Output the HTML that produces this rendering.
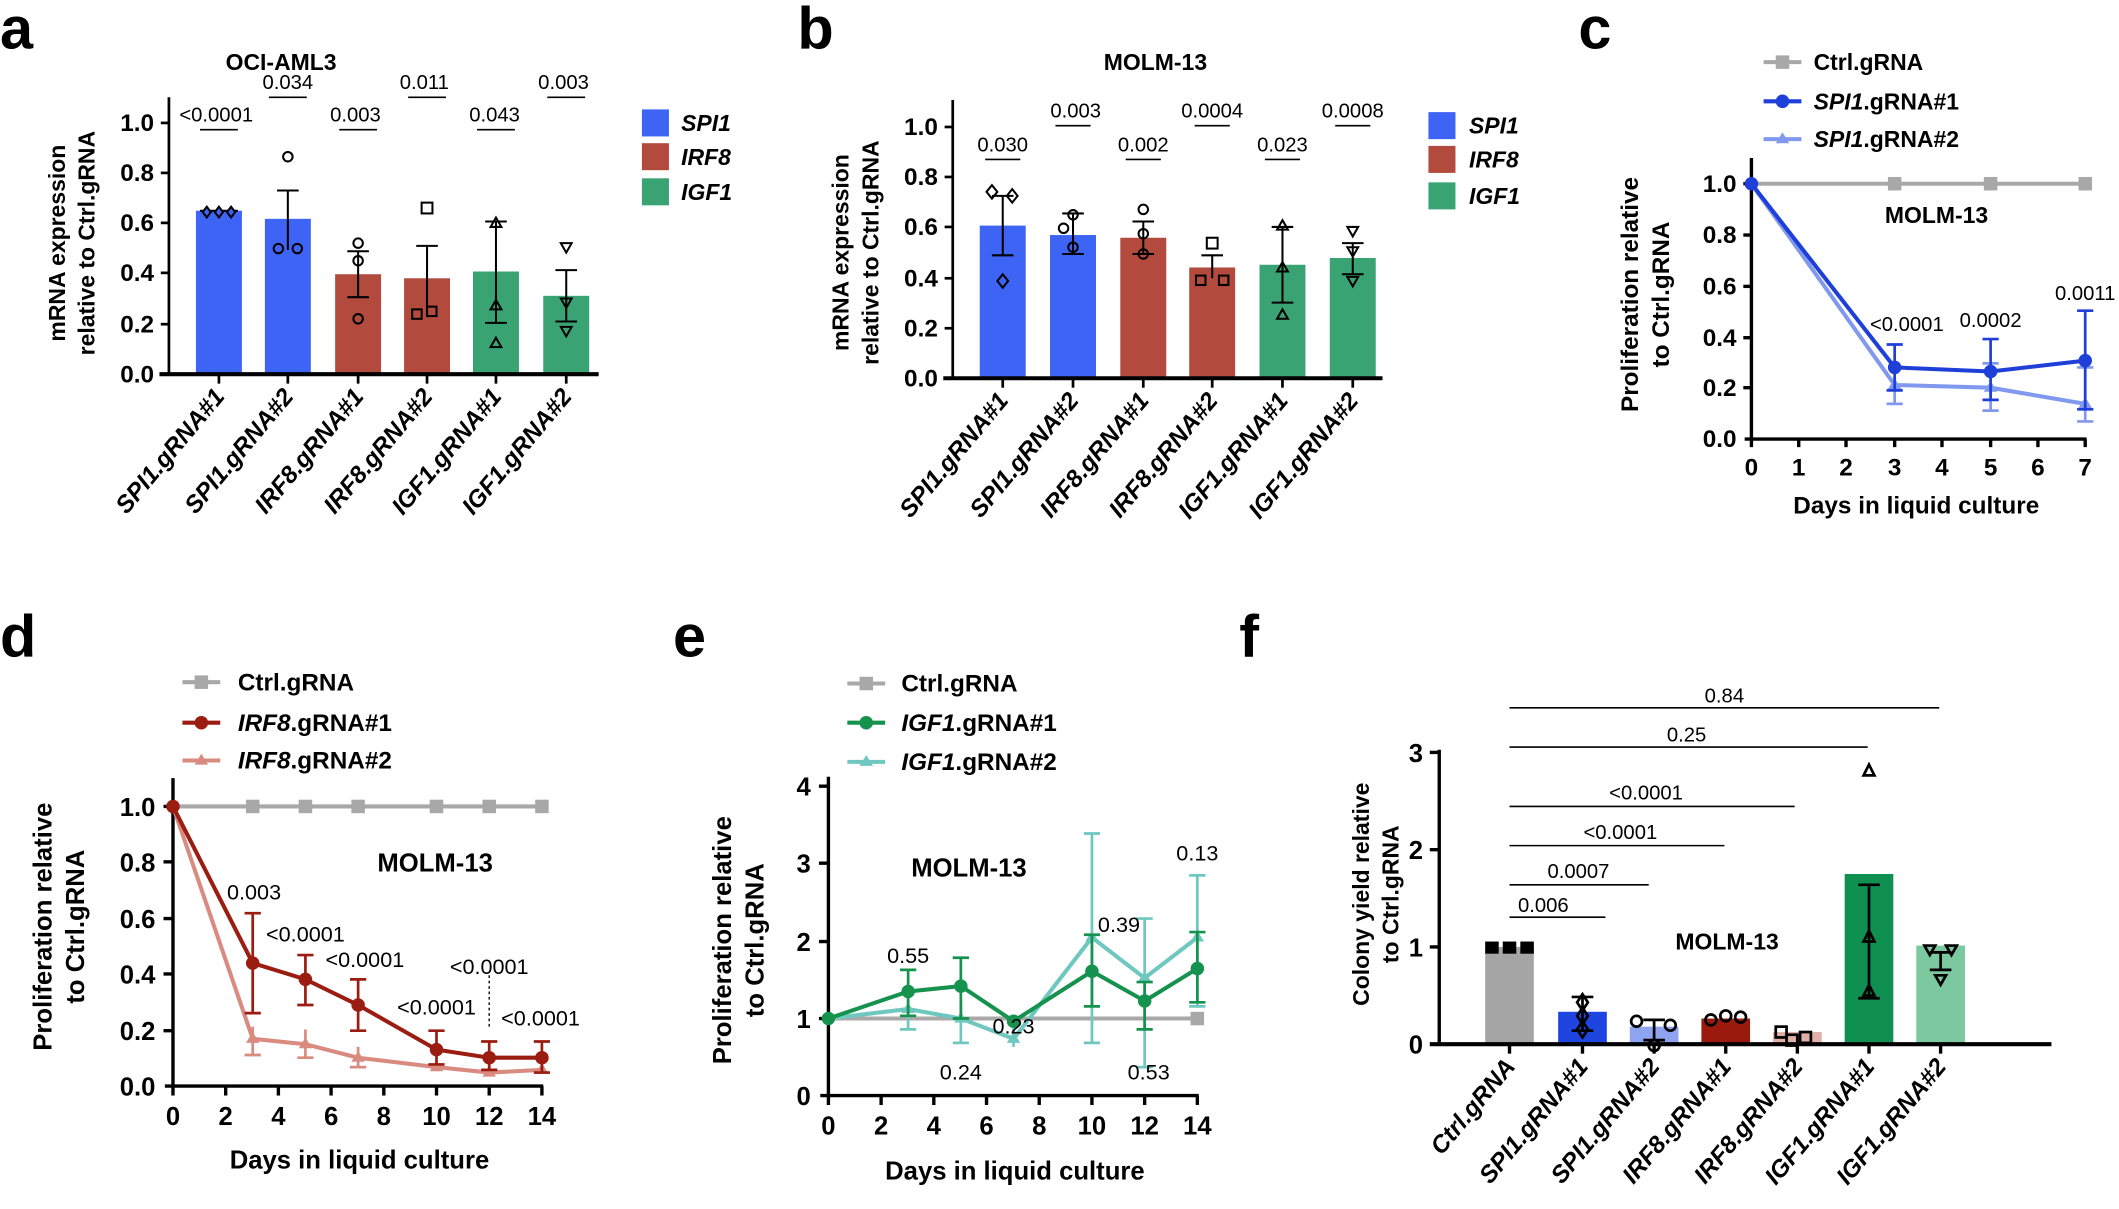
<!DOCTYPE html>
<html><head><meta charset="utf-8"><style>
html,body{margin:0;padding:0;background:#fff;}
svg{display:block;}
text{font-family:"Liberation Sans",sans-serif;}
.n{font-family:"Liberation Sans Narrow","Liberation Sans",sans-serif;}
</style></head><body>
<svg width="2119" height="1209" viewBox="0 0 1568 895" preserveAspectRatio="none" xmlns="http://www.w3.org/2000/svg">
<rect width="1568" height="895" fill="#fff"/>
<g font-weight="bold" font-size="44">
<text x="0" y="36">a</text><text x="590" y="36">b</text><text x="1168" y="36">c</text>
<text x="0" y="486">d</text><text x="498" y="486">e</text><text x="917" y="486">f</text>
</g>

<!-- ============ PANEL A ============ -->
<g>
<text x="208" y="52" text-anchor="middle" font-weight="bold" font-size="17" class="n">OCI-AML3</text>
<text transform="translate(48,180) rotate(-90)" text-anchor="middle" font-weight="bold" font-size="17">mRNA expression</text>
<text transform="translate(70,180) rotate(-90)" text-anchor="middle" font-weight="bold" font-size="17">relative to Ctrl.gRNA</text>
<g fill="#3d64f5"><rect x="145" y="156" width="34" height="121"/><rect x="196" y="162" width="34" height="115"/></g>
<g fill="#b24a3e"><rect x="248" y="203" width="34" height="74"/><rect x="299" y="206" width="34" height="71"/></g>
<g fill="#3aa373"><rect x="350" y="201" width="34" height="76"/><rect x="402" y="219" width="34" height="58"/></g>
<g stroke="#000" stroke-width="2" fill="none">
<line x1="125" y1="72" x2="125" y2="277"/><line x1="118" y1="277" x2="443" y2="277" stroke-width="3"/>
<line x1="119" y1="91" x2="125" y2="91"/><line x1="119" y1="128" x2="125" y2="128"/><line x1="119" y1="165" x2="125" y2="165"/><line x1="119" y1="202" x2="125" y2="202"/><line x1="119" y1="240" x2="125" y2="240"/>
<line x1="162" y1="277" x2="162" y2="284"/><line x1="213" y1="277" x2="213" y2="284"/><line x1="265" y1="277" x2="265" y2="284"/><line x1="316" y1="277" x2="316" y2="284"/><line x1="367" y1="277" x2="367" y2="284"/><line x1="419" y1="277" x2="419" y2="284"/>
</g>
<g stroke="#000" stroke-width="1.5" fill="none">
<line x1="148" y1="156" x2="176" y2="156"/>
<line x1="213" y1="141" x2="213" y2="162"/><line x1="205" y1="141" x2="221" y2="141"/><line x1="213" y1="162" x2="213" y2="185"/>
<line x1="265" y1="186" x2="265" y2="220"/><line x1="257" y1="186" x2="273" y2="186"/><line x1="257" y1="220" x2="273" y2="220"/>
<line x1="316" y1="182" x2="316" y2="232"/><line x1="308" y1="182" x2="324" y2="182"/>
<line x1="367" y1="164" x2="367" y2="239"/><line x1="359" y1="164" x2="375" y2="164"/><line x1="359" y1="239" x2="375" y2="239"/>
<line x1="419" y1="200" x2="419" y2="238"/><line x1="411" y1="200" x2="427" y2="200"/><line x1="411" y1="238" x2="427" y2="238"/>
<circle cx="213" cy="116" r="3.5"/><circle cx="206" cy="184" r="3.5"/><circle cx="220" cy="184" r="3.5"/>
<circle cx="265" cy="180" r="3.5"/><circle cx="265" cy="193" r="3.5"/><circle cx="265" cy="236" r="3.5"/>
<rect x="312" y="150" width="8" height="8"/><rect x="305" y="229" width="7" height="7"/><rect x="316" y="227" width="7" height="7"/>
<path d="M367 161 l4 7 h-8z M367 222 l4 7 h-8z M367 250 l4 7 h-8z"/>
<path d="M415 180 h8 l-4 7z M415 221 h8 l-4 7z M415 242 h8 l-4 7z"/>
<path d="M150 157 l3 -4 l3 4 l-3 4z M159 157 l3 -4 l3 4 l-3 4z M168 157 l3 -4 l3 4 l-3 4z" fill="#3d64f5"/>
</g>
<g stroke="#000" stroke-width="1.2">
<line x1="148" y1="96" x2="176" y2="96"/><line x1="199" y1="72" x2="227" y2="72"/><line x1="251" y1="96" x2="279" y2="96"/>
<line x1="302" y1="72" x2="330" y2="72"/><line x1="353" y1="96" x2="381" y2="96"/><line x1="405" y1="72" x2="433" y2="72"/>
</g>
<g class="n" font-size="15" text-anchor="middle">
<text x="160" y="90">&lt;0.0001</text><text x="213" y="66">0.034</text><text x="263" y="90">0.003</text>
<text x="314" y="66">0.011</text><text x="366" y="90">0.043</text><text x="417" y="66">0.003</text>
</g>
<g class="n" font-size="18" font-weight="bold" text-anchor="end">
<text x="114" y="97">1.0</text><text x="114" y="134">0.8</text><text x="114" y="171">0.6</text><text x="114" y="208">0.4</text><text x="114" y="246">0.2</text><text x="114" y="283">0.0</text>
</g>
<g font-size="18" font-weight="bold" font-style="italic" text-anchor="end">
<text transform="translate(167,294) rotate(-50)">SPI1.gRNA#1</text><text transform="translate(218,294) rotate(-50)">SPI1.gRNA#2</text>
<text transform="translate(270,294) rotate(-50)">IRF8.gRNA#1</text><text transform="translate(321,294) rotate(-50)">IRF8.gRNA#2</text>
<text transform="translate(372,294) rotate(-50)">IGF1.gRNA#1</text><text transform="translate(424,294) rotate(-50)">IGF1.gRNA#2</text>
</g>
<rect x="475" y="81" width="20" height="20" fill="#3d64f5"/><rect x="475" y="106" width="20" height="20" fill="#b24a3e"/><rect x="475" y="132" width="20" height="20" fill="#3aa373"/>
<g font-size="17" font-weight="bold" font-style="italic"><text x="504" y="97">SPI1</text><text x="504" y="122">IRF8</text><text x="504" y="148">IGF1</text></g>
</g>

<!-- ============ PANEL B ============ -->
<g>
<text x="855" y="52" text-anchor="middle" font-weight="bold" font-size="17" class="n">MOLM-13</text>
<text transform="translate(628,187) rotate(-90)" text-anchor="middle" font-weight="bold" font-size="17">mRNA expression</text>
<text transform="translate(650,187) rotate(-90)" text-anchor="middle" font-weight="bold" font-size="17">relative to Ctrl.gRNA</text>
<g fill="#3d64f5"><rect x="725" y="167" width="34" height="113"/><rect x="777" y="174" width="34" height="106"/></g>
<g fill="#b24a3e"><rect x="829" y="176" width="34" height="104"/><rect x="880" y="198" width="34" height="82"/></g>
<g fill="#3aa373"><rect x="932" y="196" width="34" height="84"/><rect x="984" y="191" width="34" height="89"/></g>
<g stroke="#000" stroke-width="2" fill="none">
<line x1="705" y1="74" x2="705" y2="280"/><line x1="698" y1="280" x2="1023" y2="280" stroke-width="3"/>
<line x1="699" y1="94" x2="705" y2="94"/><line x1="699" y1="131" x2="705" y2="131"/><line x1="699" y1="168" x2="705" y2="168"/><line x1="699" y1="206" x2="705" y2="206"/><line x1="699" y1="243" x2="705" y2="243"/>
<line x1="742" y1="280" x2="742" y2="287"/><line x1="794" y1="280" x2="794" y2="287"/><line x1="846" y1="280" x2="846" y2="287"/><line x1="897" y1="280" x2="897" y2="287"/><line x1="949" y1="280" x2="949" y2="287"/><line x1="1001" y1="280" x2="1001" y2="287"/>
</g>
<g stroke="#000" stroke-width="1.5" fill="none">
<line x1="742" y1="145" x2="742" y2="189"/><line x1="734" y1="145" x2="750" y2="145"/><line x1="734" y1="189" x2="750" y2="189"/>
<line x1="794" y1="158" x2="794" y2="188"/><line x1="786" y1="158" x2="802" y2="158"/><line x1="786" y1="188" x2="802" y2="188"/>
<line x1="846" y1="164" x2="846" y2="188"/><line x1="838" y1="164" x2="854" y2="164"/><line x1="838" y1="188" x2="854" y2="188"/>
<line x1="897" y1="189" x2="897" y2="206"/><line x1="889" y1="189" x2="905" y2="189"/>
<line x1="949" y1="168" x2="949" y2="224"/><line x1="941" y1="168" x2="957" y2="168"/><line x1="941" y1="224" x2="957" y2="224"/>
<line x1="1001" y1="180" x2="1001" y2="203"/><line x1="993" y1="180" x2="1009" y2="180"/><line x1="993" y1="203" x2="1009" y2="203"/>
<path d="M730 142 l4 -5 l4 5 l-4 5z M745 145 l4 -5 l4 5 l-4 5z M738 208 l4 -5 l4 5 l-4 5z"/>
<circle cx="794" cy="159" r="3.5"/><circle cx="787" cy="169" r="3.5"/><circle cx="794" cy="183" r="3.5"/>
<circle cx="846" cy="155" r="3.5"/><circle cx="846" cy="173" r="3.5"/><circle cx="846" cy="188" r="3.5"/>
<rect x="893" y="176" width="8" height="8"/><rect x="885" y="204" width="7" height="7"/><rect x="902" y="204" width="7" height="7"/>
<path d="M949 163 l4 7 h-8z M949 194 l4 7 h-8z M949 229 l4 7 h-8z"/>
<path d="M997 168 h8 l-4 7z M997 183 h8 l-4 7z M997 205 h8 l-4 7z"/>
</g>
<g stroke="#000" stroke-width="1.2">
<line x1="729" y1="118" x2="755" y2="118"/><line x1="781" y1="93" x2="807" y2="93"/><line x1="833" y1="118" x2="859" y2="118"/>
<line x1="884" y1="93" x2="910" y2="93"/><line x1="936" y1="118" x2="962" y2="118"/><line x1="988" y1="93" x2="1014" y2="93"/>
</g>
<g class="n" font-size="15" text-anchor="middle">
<text x="742" y="112">0.030</text><text x="796" y="87">0.003</text><text x="846" y="112">0.002</text>
<text x="897" y="87">0.0004</text><text x="949" y="112">0.023</text><text x="1001" y="87">0.0008</text>
</g>
<g class="n" font-size="18" font-weight="bold" text-anchor="end">
<text x="694" y="100">1.0</text><text x="694" y="137">0.8</text><text x="694" y="174">0.6</text><text x="694" y="212">0.4</text><text x="694" y="249">0.2</text><text x="694" y="286">0.0</text>
</g>
<g font-size="18" font-weight="bold" font-style="italic" text-anchor="end">
<text transform="translate(747,297) rotate(-50)">SPI1.gRNA#1</text><text transform="translate(799,297) rotate(-50)">SPI1.gRNA#2</text>
<text transform="translate(851,297) rotate(-50)">IRF8.gRNA#1</text><text transform="translate(902,297) rotate(-50)">IRF8.gRNA#2</text>
<text transform="translate(954,297) rotate(-50)">IGF1.gRNA#1</text><text transform="translate(1006,297) rotate(-50)">IGF1.gRNA#2</text>
</g>
<rect x="1057" y="83" width="20" height="20" fill="#3d64f5"/><rect x="1057" y="108" width="20" height="20" fill="#b24a3e"/><rect x="1057" y="135" width="20" height="20" fill="#3aa373"/>
<g font-size="17" font-weight="bold" font-style="italic"><text x="1087" y="99">SPI1</text><text x="1087" y="124">IRF8</text><text x="1087" y="151">IGF1</text></g>
</g>

<!-- ============ PANEL C ============ -->
<g>
<line x1="1305" y1="46" x2="1333" y2="46" stroke="#a8a8a8" stroke-width="3"/><rect x="1314" y="41" width="10" height="10" fill="#a8a8a8"/>
<line x1="1305" y1="75" x2="1333" y2="75" stroke="#1f3fd9" stroke-width="3"/><circle cx="1319" cy="75" r="5" fill="#1f3fd9"/>
<line x1="1305" y1="103" x2="1333" y2="103" stroke="#8099ee" stroke-width="3"/><path d="M1319 98 l5 8 h-10z" fill="#8099ee"/>
<g font-size="17" font-weight="bold"><text x="1342" y="52">Ctrl.gRNA</text><text x="1342" y="81"><tspan font-style="italic">SPI1</tspan>.gRNA#1</text><text x="1342" y="109"><tspan font-style="italic">SPI1</tspan>.gRNA#2</text></g>
<text transform="translate(1212,218) rotate(-90)" text-anchor="middle" font-weight="bold" font-size="18">Proliferation relative</text>
<text transform="translate(1235,218) rotate(-90)" text-anchor="middle" font-weight="bold" font-size="18">to Ctrl.gRNA</text>
<g stroke="#000" stroke-width="2.5">
<line x1="1296" y1="117" x2="1296" y2="325"/><line x1="1291" y1="325" x2="1544" y2="325"/>
<line x1="1290" y1="136" x2="1296" y2="136"/><line x1="1290" y1="174" x2="1296" y2="174"/><line x1="1290" y1="212" x2="1296" y2="212"/><line x1="1290" y1="250" x2="1296" y2="250"/><line x1="1290" y1="287" x2="1296" y2="287"/>
<line x1="1296" y1="325" x2="1296" y2="331"/><line x1="1331" y1="325" x2="1331" y2="331"/><line x1="1366" y1="325" x2="1366" y2="331"/><line x1="1402" y1="325" x2="1402" y2="331"/><line x1="1437" y1="325" x2="1437" y2="331"/><line x1="1473" y1="325" x2="1473" y2="331"/><line x1="1508" y1="325" x2="1508" y2="331"/><line x1="1543" y1="325" x2="1543" y2="331"/>
</g>
<polyline points="1296,136 1402,136 1473,136 1543,136" stroke="#a8a8a8" stroke-width="3" fill="none"/>
<g fill="#a8a8a8"><rect x="1397" y="131" width="10" height="10"/><rect x="1468" y="131" width="10" height="10"/><rect x="1538" y="131" width="10" height="10"/></g>
<g stroke="#8099ee" stroke-width="2" fill="none">
<polyline points="1296,136 1402,285 1473,287 1543,299" stroke-width="3"/>
<path d="M1402 275 V299 M1396 299 h12 M1473 269 V304 M1467 304 h12 M1467 269 h12 M1543 272 V312 M1537 312 h12 M1537 272 h12"/>
</g>
<g fill="#8099ee"><path d="M1402 280 l5 8 h-10z M1473 282 l5 8 h-10z M1543 294 l5 8 h-10z"/></g>
<g stroke="#1f3fd9" stroke-width="2" fill="none">
<polyline points="1296,136 1402,272 1473,275 1543,267" stroke-width="3"/>
<path d="M1402 255 V289 M1396 255 h12 M1396 289 h12 M1473 251 V296 M1467 251 h12 M1467 296 h12 M1543 230 V303 M1537 230 h12 M1537 303 h12"/>
</g>
<g fill="#1f3fd9"><circle cx="1296" cy="136" r="5"/><circle cx="1402" cy="272" r="5"/><circle cx="1473" cy="275" r="5"/><circle cx="1543" cy="267" r="5"/></g>
<text x="1433" y="165" text-anchor="middle" font-weight="bold" font-size="17">MOLM-13</text>
<g font-size="15" text-anchor="middle"><text x="1411" y="245">&lt;0.0001</text><text x="1473" y="242">0.0002</text><text x="1543" y="222">0.0011</text></g>
<g font-size="18" font-weight="bold" text-anchor="end"><text x="1285" y="142">1.0</text><text x="1285" y="180">0.8</text><text x="1285" y="218">0.6</text><text x="1285" y="256">0.4</text><text x="1285" y="293">0.2</text><text x="1285" y="331">0.0</text></g>
<g font-size="18" font-weight="bold" text-anchor="middle"><text x="1296" y="352">0</text><text x="1331" y="352">1</text><text x="1366" y="352">2</text><text x="1402" y="352">3</text><text x="1437" y="352">4</text><text x="1473" y="352">5</text><text x="1508" y="352">6</text><text x="1543" y="352">7</text></g>
<text x="1418" y="380" text-anchor="middle" font-weight="bold" font-size="18">Days in liquid culture</text>
</g>

<!-- ============ PANEL D ============ -->
<g>
<line x1="135" y1="505" x2="163" y2="505" stroke="#a8a8a8" stroke-width="3"/><rect x="144" y="500" width="10" height="10" fill="#a8a8a8"/>
<line x1="135" y1="535" x2="163" y2="535" stroke="#9b1c10" stroke-width="3"/><circle cx="149" cy="535" r="5" fill="#9b1c10"/>
<line x1="135" y1="563" x2="163" y2="563" stroke="#d98b80" stroke-width="3"/><path d="M149 558 l5 8 h-10z" fill="#d98b80"/>
<g font-size="18" font-weight="bold"><text x="176" y="511">Ctrl.gRNA</text><text x="176" y="541"><tspan font-style="italic">IRF8</tspan>.gRNA#1</text><text x="176" y="569"><tspan font-style="italic">IRF8</tspan>.gRNA#2</text></g>
<text transform="translate(38,686) rotate(-90)" text-anchor="middle" font-weight="bold" font-size="19">Proliferation relative</text>
<text transform="translate(62,686) rotate(-90)" text-anchor="middle" font-weight="bold" font-size="19">to Ctrl.gRNA</text>
<g stroke="#000" stroke-width="2.5">
<line x1="128" y1="576" x2="128" y2="804"/><line x1="122" y1="804" x2="402" y2="804"/>
<line x1="121" y1="597" x2="128" y2="597"/><line x1="121" y1="638" x2="128" y2="638"/><line x1="121" y1="680" x2="128" y2="680"/><line x1="121" y1="721" x2="128" y2="721"/><line x1="121" y1="763" x2="128" y2="763"/>
<line x1="128" y1="804" x2="128" y2="811"/><line x1="167" y1="804" x2="167" y2="811"/><line x1="206" y1="804" x2="206" y2="811"/><line x1="245" y1="804" x2="245" y2="811"/><line x1="284" y1="804" x2="284" y2="811"/><line x1="323" y1="804" x2="323" y2="811"/><line x1="362" y1="804" x2="362" y2="811"/><line x1="401" y1="804" x2="401" y2="811"/>
</g>
<polyline points="128,597 187,597 226,597 265,597 323,597 362,597 401,597" stroke="#a8a8a8" stroke-width="3" fill="none"/>
<g fill="#a8a8a8"><rect x="182" y="592" width="10" height="10"/><rect x="221" y="592" width="10" height="10"/><rect x="260" y="592" width="10" height="10"/><rect x="318" y="592" width="10" height="10"/><rect x="357" y="592" width="10" height="10"/><rect x="396" y="592" width="10" height="10"/></g>
<g stroke="#d98b80" stroke-width="2" fill="none">
<polyline points="128,597 187,769 226,773 265,783 323,790 362,794 401,792" stroke-width="3"/>
<path d="M187 760 V781 M181 781 h12 M226 762 V783 M220 783 h12 M265 775 V790 M259 790 h12"/>
</g>
<g fill="#d98b80"><path d="M187 764 l5 8 h-10z M226 768 l5 8 h-10z M265 778 l5 8 h-10z M323 785 l5 8 h-10z M362 789 l5 8 h-10z M401 787 l5 8 h-10z"/></g>
<g stroke="#9b1c10" stroke-width="2" fill="none">
<polyline points="128,597 187,713 226,725 265,744 323,777 362,783 401,783" stroke-width="3"/>
<path d="M187 676 V750 M181 676 h12 M181 750 h12 M226 707 V744 M220 707 h12 M220 744 h12 M265 725 V763 M259 725 h12 M259 763 h12 M323 763 V788 M317 763 h12 M317 788 h12 M362 771 V792 M356 771 h12 M356 792 h12 M401 771 V794 M395 771 h12 M395 794 h12"/>
</g>
<g fill="#9b1c10"><circle cx="128" cy="597" r="5"/><circle cx="187" cy="713" r="5"/><circle cx="226" cy="725" r="5"/><circle cx="265" cy="744" r="5"/><circle cx="323" cy="777" r="5"/><circle cx="362" cy="783" r="5"/><circle cx="401" cy="783" r="5"/></g>
<line x1="362" y1="722" x2="362" y2="760" stroke="#000" stroke-width="1" stroke-dasharray="2,2"/>
<text x="322" y="645" text-anchor="middle" font-weight="bold" font-size="19">MOLM-13</text>
<g font-size="16" text-anchor="middle"><text x="188" y="666">0.003</text><text x="226" y="697">&lt;0.0001</text><text x="270" y="716">&lt;0.0001</text><text x="323" y="751">&lt;0.0001</text><text x="362" y="721">&lt;0.0001</text><text x="400" y="759">&lt;0.0001</text></g>
<g font-size="19" font-weight="bold" text-anchor="end"><text x="115" y="604">1.0</text><text x="115" y="645">0.8</text><text x="115" y="687">0.6</text><text x="115" y="728">0.4</text><text x="115" y="770">0.2</text><text x="115" y="811">0.0</text></g>
<g font-size="19" font-weight="bold" text-anchor="middle"><text x="128" y="833">0</text><text x="167" y="833">2</text><text x="206" y="833">4</text><text x="245" y="833">6</text><text x="284" y="833">8</text><text x="323" y="833">10</text><text x="362" y="833">12</text><text x="401" y="833">14</text></g>
<text x="266" y="865" text-anchor="middle" font-weight="bold" font-size="19">Days in liquid culture</text>
</g>

<!-- ============ PANEL E ============ -->
<g>
<line x1="627" y1="506" x2="655" y2="506" stroke="#a8a8a8" stroke-width="3"/><rect x="636" y="501" width="10" height="10" fill="#a8a8a8"/>
<line x1="627" y1="535" x2="655" y2="535" stroke="#14924e" stroke-width="3"/><circle cx="641" cy="535" r="5" fill="#14924e"/>
<line x1="627" y1="564" x2="655" y2="564" stroke="#6fc8c0" stroke-width="3"/><path d="M641 559 l5 8 h-10z" fill="#6fc8c0"/>
<g font-size="18" font-weight="bold"><text x="667" y="512">Ctrl.gRNA</text><text x="667" y="541"><tspan font-style="italic">IGF1</tspan>.gRNA#1</text><text x="667" y="570"><tspan font-style="italic">IGF1</tspan>.gRNA#2</text></g>
<text transform="translate(541,696) rotate(-90)" text-anchor="middle" font-weight="bold" font-size="19">Proliferation relative</text>
<text transform="translate(565,696) rotate(-90)" text-anchor="middle" font-weight="bold" font-size="19">to Ctrl.gRNA</text>
<g stroke="#000" stroke-width="2.5">
<line x1="613" y1="575" x2="613" y2="811"/><line x1="607" y1="811" x2="887" y2="811"/>
<line x1="606" y1="582" x2="613" y2="582"/><line x1="606" y1="639" x2="613" y2="639"/><line x1="606" y1="697" x2="613" y2="697"/><line x1="606" y1="754" x2="613" y2="754"/>
<line x1="613" y1="811" x2="613" y2="818"/><line x1="652" y1="811" x2="652" y2="818"/><line x1="691" y1="811" x2="691" y2="818"/><line x1="730" y1="811" x2="730" y2="818"/><line x1="769" y1="811" x2="769" y2="818"/><line x1="808" y1="811" x2="808" y2="818"/><line x1="847" y1="811" x2="847" y2="818"/><line x1="886" y1="811" x2="886" y2="818"/>
</g>
<polyline points="613,754 672,754 711,754 750,754 808,754 847,754 886,754" stroke="#a8a8a8" stroke-width="3" fill="none"/>
<g fill="#a8a8a8"><rect x="881" y="749" width="10" height="10"/></g>
<g stroke="#6fc8c0" stroke-width="2" fill="none">
<polyline points="613,754 672,747 711,754 750,769 808,694 847,724 886,694" stroke-width="3"/>
<path d="M672 733 V762 M666 762 h12 M711 740 V772 M705 772 h12 M750 760 V775 M808 617 V772 M802 617 h12 M802 772 h12 M847 680 V790 M841 680 h12 M841 790 h12 M886 648 V745 M880 648 h12 M880 745 h12"/>
</g>
<g fill="#6fc8c0"><path d="M672 742 l5 8 h-10z M711 749 l5 8 h-10z M750 764 l5 8 h-10z M808 689 l5 8 h-10z M847 719 l5 8 h-10z M886 689 l5 8 h-10z"/></g>
<g stroke="#14924e" stroke-width="2" fill="none">
<polyline points="613,754 672,734 711,730 750,756 808,719 847,741 886,717" stroke-width="3"/>
<path d="M672 718 V752 M666 718 h12 M666 752 h12 M711 709 V754 M705 709 h12 M705 754 h12 M808 692 V745 M802 692 h12 M802 745 h12 M847 727 V762 M841 727 h12 M841 762 h12 M886 690 V742 M880 690 h12 M880 742 h12"/>
</g>
<g fill="#14924e"><circle cx="613" cy="754" r="5"/><circle cx="672" cy="734" r="5"/><circle cx="711" cy="730" r="5"/><circle cx="750" cy="756" r="5"/><circle cx="808" cy="719" r="5"/><circle cx="847" cy="741" r="5"/><circle cx="886" cy="717" r="5"/></g>
<text x="717" y="649" text-anchor="middle" font-weight="bold" font-size="19">MOLM-13</text>
<g font-size="16" text-anchor="middle"><text x="672" y="713">0.55</text><text x="711" y="799">0.24</text><text x="750" y="765">0.23</text><text x="828" y="690">0.39</text><text x="850" y="799">0.53</text><text x="886" y="637">0.13</text></g>
<g font-size="19" font-weight="bold" text-anchor="end"><text x="600" y="589">4</text><text x="600" y="646">3</text><text x="600" y="704">2</text><text x="600" y="761">1</text><text x="600" y="818">0</text></g>
<g font-size="19" font-weight="bold" text-anchor="middle"><text x="613" y="840">0</text><text x="652" y="840">2</text><text x="691" y="840">4</text><text x="730" y="840">6</text><text x="769" y="840">8</text><text x="808" y="840">10</text><text x="847" y="840">12</text><text x="886" y="840">14</text></g>
<text x="751" y="873" text-anchor="middle" font-weight="bold" font-size="19">Days in liquid culture</text>
</g>

<!-- ============ PANEL F ============ -->
<g>
<text transform="translate(1013,662) rotate(-90)" text-anchor="middle" font-weight="bold" font-size="17">Colony yield relative</text>
<text transform="translate(1035,662) rotate(-90)" text-anchor="middle" font-weight="bold" font-size="17">to Ctrl.gRNA</text>
<rect x="1099" y="701" width="36" height="72" fill="#a5a5a5"/>
<rect x="1153" y="749" width="36" height="24" fill="#1f45e0"/>
<rect x="1206" y="760" width="36" height="13" fill="#8ea4f0"/>
<rect x="1259" y="754" width="36" height="19" fill="#9a1a0e"/>
<rect x="1312" y="764" width="36" height="9" fill="#e0b0a8"/>
<rect x="1365" y="647" width="36" height="126" fill="#0f9050"/>
<rect x="1418" y="700" width="36" height="73" fill="#7cc9a0"/>
<g stroke="#000" stroke-width="2.5">
<line x1="1065" y1="555" x2="1065" y2="773"/><line x1="1058" y1="773" x2="1518" y2="773" stroke-width="3"/>
<line x1="1058" y1="557" x2="1065" y2="557"/><line x1="1058" y1="629" x2="1065" y2="629"/><line x1="1058" y1="701" x2="1065" y2="701"/>
<line x1="1117" y1="773" x2="1117" y2="780"/><line x1="1171" y1="773" x2="1171" y2="780"/><line x1="1224" y1="773" x2="1224" y2="780"/><line x1="1277" y1="773" x2="1277" y2="780"/><line x1="1330" y1="773" x2="1330" y2="780"/><line x1="1383" y1="773" x2="1383" y2="780"/><line x1="1436" y1="773" x2="1436" y2="780"/>
</g>
<g fill="#000"><rect x="1099" y="697" width="10" height="9"/><rect x="1112" y="697" width="10" height="9"/><rect x="1125" y="697" width="10" height="9"/></g>
<g stroke="#000" stroke-width="2" fill="none">
<path d="M1171 738 V763 M1163 738 h16 M1163 763 h16"/>
<path d="M1167 742 l4 -6 l4 6 l-4 6z M1167 752 l4 -6 l4 6 l-4 6z M1167 762 l4 -6 l4 6 l-4 6z"/>
<path d="M1224 755 V770 M1216 755 h16 M1216 770 h16"/>
<circle cx="1211" cy="756" r="4"/><circle cx="1236" cy="759" r="4"/><circle cx="1224" cy="774" r="4"/>
<circle cx="1266" cy="755" r="4"/><circle cx="1277" cy="752" r="4"/><circle cx="1288" cy="753" r="4"/>
<rect x="1314" y="760" width="8" height="8"/><rect x="1322" y="766" width="8" height="8"/><rect x="1332" y="764" width="8" height="8"/>
<path d="M1383 655 V739 M1375 655 h16 M1375 739 h16"/>
<path d="M1383 566 l4 8 h-8z M1383 729 l4 8 h-8z M1383 689 l4 8 h-8z"/>
<path d="M1436 705 V718 M1428 705 h16 M1428 718 h16"/>
<path d="M1424 700 h8 l-4 7z M1440 700 h8 l-4 7z M1432 722 h8 l-4 7z"/>
</g>
<g stroke="#000" stroke-width="1.2">
<line x1="1117" y1="679" x2="1188" y2="679"/><line x1="1117" y1="655" x2="1220" y2="655"/><line x1="1117" y1="626" x2="1276" y2="626"/>
<line x1="1117" y1="597" x2="1328" y2="597"/><line x1="1117" y1="553" x2="1382" y2="553"/><line x1="1117" y1="524" x2="1435" y2="524"/>
</g>
<g class="n" font-size="15" text-anchor="middle">
<text x="1142" y="675">0.006</text><text x="1168" y="650">0.0007</text><text x="1199" y="621">&lt;0.0001</text><text x="1218" y="592">&lt;0.0001</text><text x="1248" y="549">0.25</text><text x="1276" y="520">0.84</text>
</g>
<text x="1278" y="703" text-anchor="middle" font-weight="bold" font-size="17" class="n">MOLM-13</text>
<g class="n" font-size="19" font-weight="bold" text-anchor="end"><text x="1053" y="564">3</text><text x="1053" y="636">2</text><text x="1053" y="708">1</text><text x="1053" y="780">0</text></g>
<g font-size="18" font-weight="bold" font-style="italic" text-anchor="end">
<text transform="translate(1122,790) rotate(-50)">Ctrl.gRNA</text><text transform="translate(1176,790) rotate(-50)">SPI1.gRNA#1</text>
<text transform="translate(1229,790) rotate(-50)">SPI1.gRNA#2</text><text transform="translate(1282,790) rotate(-50)">IRF8.gRNA#1</text>
<text transform="translate(1335,790) rotate(-50)">IRF8.gRNA#2</text><text transform="translate(1388,790) rotate(-50)">IGF1.gRNA#1</text>
<text transform="translate(1441,790) rotate(-50)">IGF1.gRNA#2</text>
</g>
</g>
</svg>
</body></html>
